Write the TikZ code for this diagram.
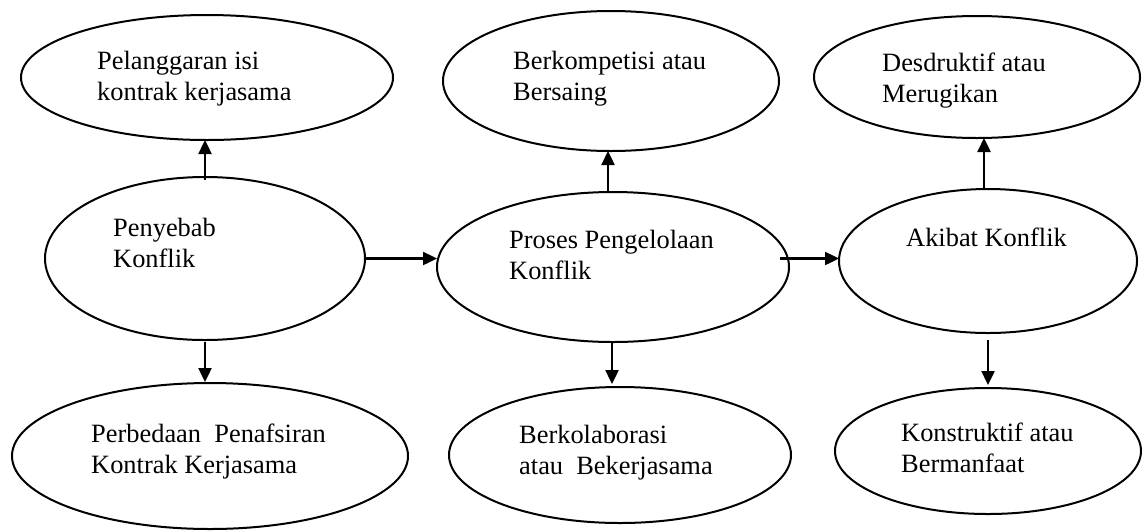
\documentclass[tikz,border=0pt]{standalone}
\usepackage{fontspec}
\setmainfont{Liberation Serif}
\usetikzlibrary{shapes.geometric,arrows.meta}
\tikzset{
  ell/.style={draw, line width=2pt, ellipse, inner sep=0pt, outer sep=0pt},
  lbl/.style={anchor=base west, align=left, inner sep=0pt, font=\fontsize{26.4}{31}\selectfont},
  arr/.style={line width=2.4pt, -{Triangle[length=14pt,width=13pt]}}
}
\begin{document}
\begin{tikzpicture}[x=1pt,y=-1pt]
\useasboundingbox (0,0) rectangle (1142,531);
% ellipses
\node[ell, minimum width=372pt, minimum height=125pt] (e1) at (207,77.5) {};
\node[ell, minimum width=336pt, minimum height=140pt] (e2) at (611,81) {};
\node[ell, minimum width=326pt, minimum height=122pt] (e3) at (977,77) {};
\node[ell, minimum width=320pt, minimum height=163pt] (e4) at (205,258.5) {};
\node[ell, minimum width=352pt, minimum height=150pt] (e5) at (613,267) {};
\node[ell, minimum width=298pt, minimum height=144pt] (e6) at (988,261) {};
\node[ell, minimum width=396pt, minimum height=146pt] (e7) at (210,456) {};
\node[ell, minimum width=342pt, minimum height=136pt] (e8) at (620,455) {};
\node[ell, minimum width=306pt, minimum height=126pt] (e9) at (988,451) {};
% labels (anchor = baseline of last line)
\node[lbl] (t1) at (97,100) {Pelanggaran isi\\kontrak kerjasama};
\node[lbl] (t2) at (513,100) {Berkompetisi atau\\Bersaing};
\node[lbl] (t3) at (882,102) {Desdruktif atau\\Merugikan};
\node[lbl] (t4) at (113,267) {Penyebab\\Konflik};
\node[lbl] (t5) at (509,279) {Proses Pengelolaan\\Konflik};
\node[lbl] (t6) at (906,246) {Akibat Konflik};
\node[lbl] (t7) at (91,473) {Perbedaan~ Penafsiran\\Kontrak Kerjasama};
\node[lbl] (t8) at (519,474) {Berkolaborasi\\atau~ Bekerjasama};
\node[lbl] (t9) at (901,472) {Konstruktif atau\\Bermanfaat};
% connectors
\draw[arr] ([yshift=-3pt]e4.north) -- (e4.north |- e1.south);
\draw[arr] ([xshift=-5pt]e5.north) -- ([xshift=-5pt]e5.north |- e2.south);
\draw[arr] ([xshift=-4pt]e6.north) -- ([xshift=-4pt]e6.north |- e3.south);
\draw[arr] ([yshift=-2pt]e4.south) -- ([yshift=1pt]e4.south |- e7.north);
\draw[arr] ([xshift=-1pt]e5.south) -- ([xshift=-1pt,yshift=3pt]e5.south |- e8.north);
\draw[arr] ([yshift=-7pt]e6.south) -- ([yshift=3pt]e6.south |- e9.north);
\draw[arr] (e4.east) -- (e4.east -| e5.west);
\draw[arr] ([xshift=-9pt]e5.east |- e4.east) -- (e6.west |- e4.east);
\end{tikzpicture}
\end{document}
